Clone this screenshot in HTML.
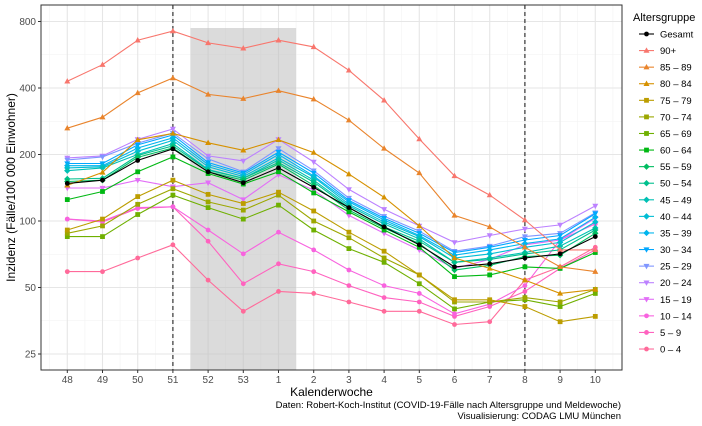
<!DOCTYPE html>
<html><head><meta charset="utf-8"><style>
body{margin:0;background:#fff;}
svg{display:block;font-family:"Liberation Sans",sans-serif;}
</style></head><body>
<svg id="c" width="702" height="426" viewBox="0 0 702 426"></svg>
<script>
const weeks=["48","49","50","51","52","53","1","2","3","4","5","6","7","8","9","10"];
const yTicks=[25,50,100,200,400,800];
const groups=["Gesamt","90+","85 – 89","80 – 84","75 – 79","70 – 74","65 – 69","60 – 64","55 – 59","50 – 54","45 – 49","40 – 44","35 – 39","30 – 34","25 – 29","20 – 24","15 – 19","10 – 14","5 – 9","0 – 4"];
const colors=["#000000","#F8766D","#E9842C","#D69100","#BC9D00","#9CA700","#6FB000","#00B813","#00BD61","#00C08E","#00C0B4","#00BDD4","#00B5EE","#00A7FF","#7F96FF","#BC81FF","#E26EF7","#F863DF","#FF62BF","#FF6A9A"];
const shapes=["c","t","t","t","s","s","s","s","d","d","d","d","d","v","v","v","v","c","c","c"];
const sGesamt=[148,153,188,212,167,149,174,142,115,94,78,62,64,68,71,85];
const s90=[429,510,658,724,640,605,658,614,481,352,235,160,131,101,74,74];
const s85=[263,295,380,444,374,358,389,356,286,213,165,106,94,76,62,59];
const s80=[145,166,233,249,226,209,233,204,163,128,95,68,61,54,47,49];
const s75=[91,102,129,153,132,120,135,111,89,73,57,44,44,41,35,37];
const s70=[88,95,119,140,122,112,131,100,84,68,57,43,43,45,43,49];
const s65=[85,85,107,131,115,102,118,91,75,65,52,40,43,44,41,47];
const s60=[125,136,167,195,164,147,167,134,110,91,76,56,57,62,61,72];
const s55=[151,153,194,214,167,153,181,145,112,93,79,60,63,69,70,88];
const s50=[155,156,198,219,170,156,184,150,115,94,81,65,67,71,74,91];
const s45=[169,174,200,224,171,156,189,153,117,97,83,65,68,72,77,93];
const s40=[174,176,207,232,176,159,193,158,119,99,85,68,71,76,80,99];
const s35=[178,178,214,238,180,162,200,160,122,101,86,70,74,79,83,104];
const s30=[182,182,221,245,184,165,205,165,124,103,88,72,76,82,86,108];
const s25=[189,195,225,250,191,167,213,169,127,105,90,73,77,85,88,109];
const s20=[193,197,234,261,197,187,234,185,139,113,95,80,86,92,96,117];
const s15=[141,141,153,143,149,125,162,138,106,88,74,61,67,78,82,103];
const s10=[102,100,115,116,91,71,89,74,60,51,47,38,42,51,82,97];
const s5=[102,99,114,116,81,52,64,59,51,45,43,37,41,48,61,74];
const s0=[59,59,68,78,54,39,48,47,43,39,39,34,35,54,62,76];
const series=[sGesamt,s90,s85,s80,s75,s70,s65,s60,s55,s50,s45,s40,s35,s30,s25,s20,s15,s10,s5,s0];
const shadeFrom=4, shadeTo=6, dashed=[3,13];

const NS="http://www.w3.org/2000/svg";
const svg=document.getElementById('c');
const P={l:41,r:622,t:5,b:370};
const X=i=>67.3+i*35.2;
const Y=v=>354-66.5*Math.log2(v/25);
function mk(tag,attrs,parent){const e=document.createElementNS(NS,tag);for(const k in attrs)e.setAttribute(k,attrs[k]);(parent||svg).appendChild(e);return e;}

const bg=mk('rect',{x:P.l,y:P.t,width:P.r-P.l,height:P.b-P.t,fill:'#fff'});


for(let i=0;i<weeks.length+1;i++){const x=X(i)-17.6;if(x>P.l&&x<P.r){const l=mk('line',{x1:x,x2:x,y1:P.t,y2:P.b,stroke:'#f2f2f2','stroke-width':0.6});}}
for(let k=0;k<yTicks.length-1;k++){const y=Y(yTicks[k]*Math.SQRT2);const l=mk('line',{x1:P.l,x2:P.r,y1:y,y2:y,stroke:'#f2f2f2','stroke-width':0.6});}
weeks.forEach((w,i)=>{const l=mk('line',{x1:X(i),x2:X(i),y1:P.t,y2:P.b,stroke:'#e6e6e6','stroke-width':1.1});});
yTicks.forEach(v=>{const l=mk('line',{x1:P.l,x2:P.r,y1:Y(v),y2:Y(v),stroke:'#e6e6e6','stroke-width':1.1});});
const sh=mk('rect',{x:(X(shadeFrom)+X(shadeFrom-1))/2,y:28,width:X(shadeTo)-X(shadeFrom)+35.2,height:P.b-28,fill:'#bdbdbd','fill-opacity':0.55});


dashed.forEach(i=>{const l=mk('line',{x1:X(i),x2:X(i),y1:P.t,y2:P.b,stroke:'#333','stroke-width':1.2,'stroke-dasharray':'4,3'});});

function marker(shape,x,y,c,g){
  let e;
  if(shape==='c')e=mk('circle',{cx:x,cy:y,r:2.4,fill:c},g);
  else if(shape==='s')e=mk('rect',{x:x-2.4,y:y-2.4,width:4.8,height:4.8,fill:c},g);
  else if(shape==='t')e=mk('polygon',{points:`${x},${y-3.2} ${x-3},${y+2.2} ${x+3},${y+2.2}`,fill:c},g);
  else if(shape==='v')e=mk('polygon',{points:`${x},${y+3.2} ${x-3},${y-2.2} ${x+3},${y-2.2}`,fill:c},g);
  else e=mk('polygon',{points:`${x},${y-3.2} ${x+3.2},${y} ${x},${y+3.2} ${x-3.2},${y}`,fill:c},g);
  return e;
}
const order=[...Array(groups.length).keys()].slice(1).reverse().concat([0]);
order.forEach(s=>{
  const g=mk('g',{});
  
  
  const d=series[s].map((v,i)=>(i?'L':'M')+X(i).toFixed(1)+','+Y(v).toFixed(1)).join('');
  const p=mk('path',{d:d,fill:'none',stroke:colors[s],'stroke-width':1.1},g);
  
  
  series[s].forEach((v,i)=>{const m=marker(shapes[s],X(i),Y(v),colors[s],g);
    
    });
});
const bd=mk('rect',{x:P.l,y:P.t,width:P.r-P.l,height:P.b-P.t,fill:'none',stroke:'#333','stroke-width':1});


yTicks.forEach(v=>{
  const t=mk('line',{x1:P.l-3,x2:P.l,y1:Y(v),y2:Y(v),stroke:'#333'});
  
  
  const tx=mk('text',{x:P.l-5,y:Y(v)+3.5,'text-anchor':'end','font-size':10,fill:'#4d4d4d'});tx.textContent=v;
  
  
});
weeks.forEach((w,i)=>{
  const t=mk('line',{x1:X(i),x2:X(i),y1:P.b,y2:P.b+3,stroke:'#333'});
  
  
  const tx=mk('text',{x:X(i),y:383,'text-anchor':'middle','font-size':10,fill:'#4d4d4d'});tx.textContent=w;
  
  
});
const xt=mk('text',{x:(P.l+P.r)/2,y:396,'text-anchor':'middle','font-size':12,fill:'#000'});xt.textContent='Kalenderwoche';


const yt=mk('text',{x:0,y:0,'text-anchor':'middle','font-size':12,fill:'#000',transform:`translate(15,${(P.t+P.b)/2}) rotate(-90)`});yt.textContent='Inzidenz (Fälle/100 000 Einwohner)';


const c1=mk('text',{x:621,y:408,'text-anchor':'end','font-size':9.5,fill:'#000'});c1.textContent='Daten: Robert-Koch-Institut (COVID-19-Fälle nach Altersgruppe und Meldewoche)';


const c2=mk('text',{x:621,y:419,'text-anchor':'end','font-size':9.5,fill:'#000'});c2.textContent='Visualisierung: CODAG LMU München';


const lg=mk('g',{});


const lt=mk('text',{x:633,y:21,'font-size':11,fill:'#000'},lg);lt.textContent='Altersgruppe';


groups.forEach((gname,s)=>{
  const y=34+s*16.58;
  const e=mk('g',{},lg);
  
  
  mk('line',{x1:639,x2:654,y1:y,y2:y,stroke:colors[s],'stroke-width':1.1},e);
  marker(shapes[s],646.5,y,colors[s],e);
  const t=mk('text',{x:660,y:y+3.5,'font-size':9.5,fill:'#000'},e);t.textContent=gname;
});
</script>
</body></html>
